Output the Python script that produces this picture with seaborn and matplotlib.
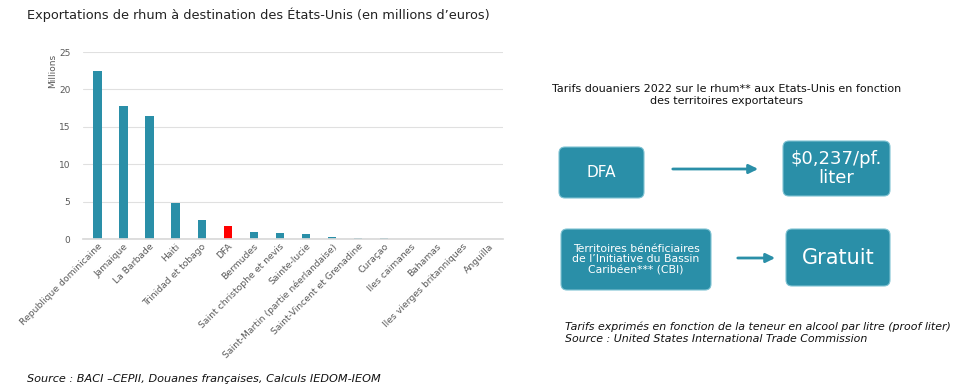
import matplotlib
matplotlib.use("Agg")
import matplotlib.pyplot as plt
import seaborn as sns
import pandas as pd
from matplotlib.patches import FancyBboxPatch

categories = ["Republique dominicaine", "Jamaique", "La Barbade", "Haiti",
              "Trinidad et tobago", "DFA", "Bermudes", "Saint christophe et nevis",
              "Sainte-lucie", "Saint-Martin (partie néerlandaise)",
              "Saint-Vincent et Grenadine", "Curaçao", "Iles caimanes", "Bahamas",
              "Iles vierges britanniques", "Anguilla"]
values = [22.5, 17.8, 16.4, 4.8, 2.6, 1.8, 0.9, 0.75, 0.65, 0.25, 0.1, 0.08,
          0.0, 0.0, 0.0, 0.0]
yticks = [0, 5, 10, 15, 20, 25]

TEAL = "#2a8fa8"
RED = "#ff0000"
colors = [RED if c == "DFA" else TEAL for c in categories]

sns.set_theme(style="white")
plt.rcParams['font.family'] = ['DejaVu Sans']

df = pd.DataFrame({"pays": categories, "val": values})

fig = plt.figure(figsize=(9.56, 3.9), dpi=100)
ax = fig.add_axes([83/956, 1-239/390, 420/956, 187/390])
sns.barplot(data=df, x="pays", y="val", hue="pays", palette=colors,
            width=0.32, dodge=False, legend=False, ax=ax, saturation=1,
            linewidth=0)
ax.set_ylim(0, 25)
ax.set_yticks(yticks)
ax.set_xlim(-0.55, len(categories) - 0.45)
ax.yaxis.grid(True, color="#e0e0e0", lw=0.8)
ax.set_axisbelow(True)
for s in ["top", "right", "left"]:
    ax.spines[s].set_visible(False)
ax.spines["bottom"].set_color("#d9d9d9")
ax.tick_params(axis="y", labelsize=6.5, colors="#595959", length=0, pad=9)
ax.tick_params(axis="x", labelsize=6.7, colors="#595959", length=0, pad=2)
plt.setp(ax.get_xticklabels(), rotation=45, ha="right", rotation_mode="anchor")
ax.set_xlabel("")
ax.set_ylabel("Millions", fontsize=6.5, color="#595959", va="center", ha="center")
ax.yaxis.set_label_coords(-0.073, 0.9)

fig.text(27/956, 1-15/390, "Exportations de rhum à destination des États-Unis (en millions d’euros)",
         fontsize=9.3, color="#222222", va="center", ha="left")
fig.text(27/956, 1-379/390, "Source : BACI –CEPII, Douanes françaises, Calculs IEDOM-IEOM",
         fontsize=8.1, style="italic", color="#111111", va="center", ha="left")

# Right panel diagram (pixel coordinates)
ov = fig.add_axes([0, 0, 1, 1])
ov.set_xlim(0, 956)
ov.set_ylim(390, 0)
ov.axis("off")
ov.patch.set_alpha(0)

ov.text(727, 95, "Tarifs douaniers 2022 sur le rhum** aux Etats-Unis en fonction\ndes territoires exportateurs",
        ha="center", va="center", fontsize=8, color="#111111", linespacing=1.3)

def box(x0, y0, x1, y1, txt, fs):
    p = FancyBboxPatch((x0 + 6, y0 + 6), (x1 - x0) - 12, (y1 - y0) - 12,
                       boxstyle="round,pad=6", fc=TEAL, ec="#7fc3d3", lw=0.8)
    ov.add_patch(p)
    ov.text((x0 + x1) / 2, (y0 + y1) / 2, txt, ha="center", va="center",
            color="white", fontsize=fs, linespacing=1.1)

box(559, 147, 644, 198, "DFA", 11)
box(783, 141, 890, 196, "$0,237/pf.\nliter", 13)
box(561, 229, 711, 290, "Territoires bénéficiaires\nde l’Initiative du Bassin\nCaribéen*** (CBI)", 7.8)
box(786, 229, 890, 286, "Gratuit", 15)

ov.annotate("", xy=(761, 169), xytext=(670, 169),
            arrowprops=dict(arrowstyle="-|>,head_length=0.45,head_width=0.22", color=TEAL, lw=2))
ov.annotate("", xy=(778, 258), xytext=(735, 258),
            arrowprops=dict(arrowstyle="-|>,head_length=0.45,head_width=0.22", color=TEAL, lw=2))

ov.text(565, 327, "Tarifs exprimés en fonction de la teneur en alcool par litre (proof liter)",
        fontsize=7.9, style="italic", color="#111111", va="center", ha="left")
ov.text(565, 339, "Source : United States International Trade Commission",
        fontsize=7.9, style="italic", color="#111111", va="center", ha="left")

fig.savefig("out.png", dpi=100)
